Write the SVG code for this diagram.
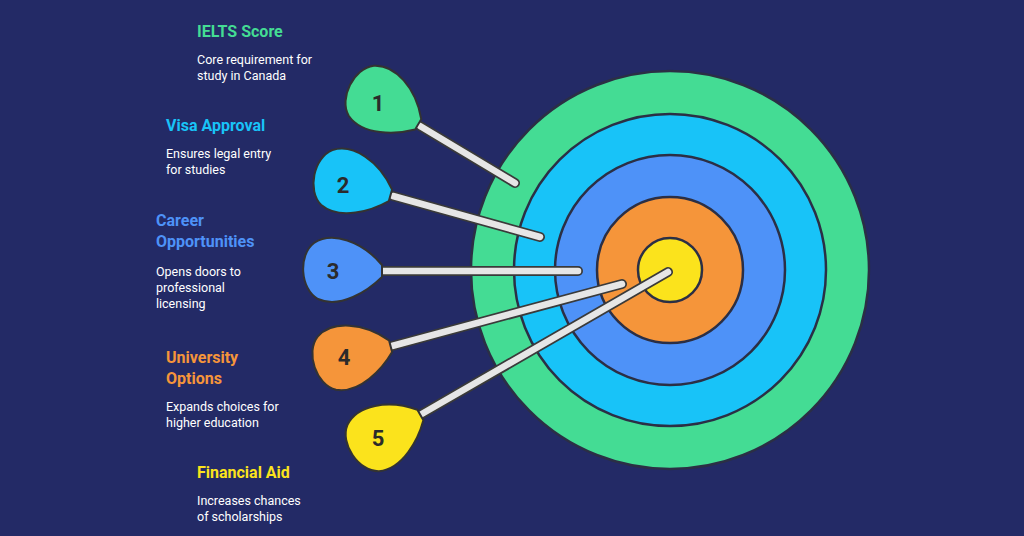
<svg xmlns="http://www.w3.org/2000/svg" width="1024" height="536" viewBox="0 0 1024 536">
<defs>
<style>
.t{font-family:Roboto,"Liberation Sans",sans-serif;font-weight:bold;font-size:16px}
.d{font-family:Roboto,"Liberation Sans",sans-serif;font-size:12.5px;fill:#ffffff}
.n{font-family:Roboto,"Liberation Sans",sans-serif;font-weight:bold;font-size:22px;fill:#2b2b2b;text-anchor:middle}
.ring{stroke:#2b2f45;stroke-width:2.5}
.so{stroke:#3a3a3a;stroke-width:10;stroke-linecap:round}
.si{stroke:#e6e6e6;stroke-width:6.5;stroke-linecap:round}
.pin{stroke:#333;stroke-width:2}
</style>
<path id="drop" d="M42,-6 C22,-30 -8,-40 -26,-28 C-42,-16 -40,18 -22,28 C0,38 28,20 42,6 Z"/>
</defs>
<rect width="1024" height="536" fill="#232a66"/>
<g id="target">
<circle class="ring" cx="670" cy="270" r="199" fill="#44dc94"/>
<circle class="ring" cx="670" cy="270" r="156" fill="#18c3f8"/>
<circle class="ring" cx="670" cy="270" r="115" fill="#4e92f8"/>
<circle class="ring" cx="670" cy="270" r="73" fill="#f5953a"/>
<circle class="ring" cx="670" cy="270" r="32" fill="#fbe31c"/>
</g>
<g id="connectors">
<line class="so" x1="420" y1="126" x2="515" y2="183"/><line class="si" x1="420" y1="126" x2="515" y2="183"/>
<line class="so" x1="393" y1="196" x2="540" y2="237"/><line class="si" x1="393" y1="196" x2="540" y2="237"/>
<line class="so" x1="380" y1="271" x2="578" y2="271"/><line class="si" x1="380" y1="271" x2="578" y2="271"/>
<line class="so" x1="392" y1="346" x2="622" y2="284"/><line class="si" x1="392" y1="346" x2="622" y2="284"/>
<line class="so" x1="420" y1="415" x2="668" y2="272"/><line class="si" x1="420" y1="415" x2="668" y2="272"/>
</g>
<g id="n1"><use href="#drop" class="pin" fill="#44dc94" transform="translate(382,103) rotate(30.5)"/><text class="n" x="378" y="111">1</text>
<text class="t" x="197" y="37" fill="#44dc94">IELTS Score</text><text class="d" x="197" y="64">Core requirement for</text><text class="d" x="197" y="80">study in Canada</text></g>
<g id="n2"><use href="#drop" class="pin" fill="#18c3f8" transform="translate(350,184) rotate(15.6)"/><text class="n" x="343" y="193">2</text>
<text class="t" x="166" y="131" fill="#18c3f8">Visa Approval</text><text class="d" x="166" y="158">Ensures legal entry</text><text class="d" x="166" y="174">for studies</text></g>
<g id="n3"><use href="#drop" class="pin" fill="#4e92f8" transform="translate(340,271)"/><text class="n" x="333" y="279">3</text>
<text class="t" x="156" y="226" fill="#4e92f8">Career</text><text class="t" x="156" y="247" fill="#4e92f8">Opportunities</text><text class="d" x="156" y="276">Opens doors to</text><text class="d" x="156" y="292">professional</text><text class="d" x="156" y="308">licensing</text></g>
<g id="n4"><use href="#drop" class="pin" fill="#f5953a" transform="translate(350,357) rotate(-15)"/><text class="n" x="344" y="365">4</text>
<text class="t" x="166" y="363" fill="#f5953a">University</text><text class="t" x="166" y="384" fill="#f5953a">Options</text><text class="d" x="166" y="411">Expands choices for</text><text class="d" x="166" y="427">higher education</text></g>
<g id="n5"><use href="#drop" class="pin" fill="#fbe31c" transform="translate(384,436) rotate(-30)"/><text class="n" x="378" y="446">5</text>
<text class="t" x="197" y="478" fill="#fbe31c">Financial Aid</text><text class="d" x="197" y="505">Increases chances</text><text class="d" x="197" y="521">of scholarships</text></g>
</svg>
